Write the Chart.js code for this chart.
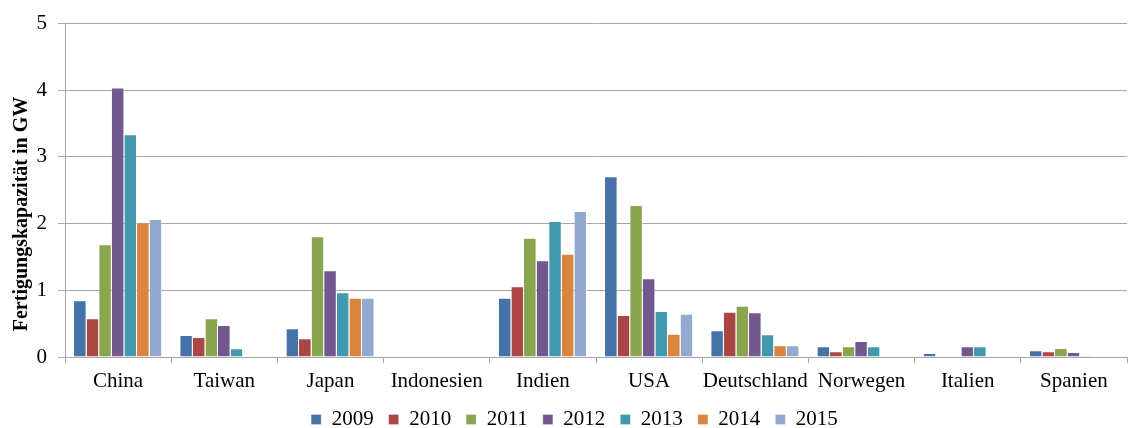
<!DOCTYPE html>
<html>
<head>
<meta charset="utf-8">
<script src="https://cdn.jsdelivr.net/npm/chart.js@4/dist/chart.umd.min.js"></script>
<style>
  html, body { margin: 0; padding: 0; background: #fff; }
  canvas { display: block; }
</style>
</head>
<body>
<canvas id="kapazitaet" width="1129" height="428"></canvas>
<script>
// Länder (Kategorien)
var laender = ['China', 'Taiwan', 'Japan', 'Indonesien', 'Indien', 'USA', 'Deutschland', 'Norwegen', 'Italien', 'Spanien'];

// Fertigungskapazität in GW je Jahr
var jahr2009 = [0.85, 0.33, 0.43, null, 0.89, 2.71, 0.40, 0.16, 0.06, 0.10];
var jahr2010 = [0.58, 0.30, 0.28, null, 1.06, 0.63, 0.68, 0.085, null, 0.085];
var jahr2011 = [1.69, 0.58, 1.81, null, 1.79, 2.28, 0.77, 0.16, null, 0.135];
var jahr2012 = [4.04, 0.48, 1.30, null, 1.45, 1.18, 0.67, 0.24, 0.16, 0.075];
var jahr2013 = [3.34, 0.13, 0.97, null, 2.04, 0.69, 0.34, 0.16, 0.16, 0.015];
var jahr2014 = [2.02, null, 0.89, null, 1.55, 0.35, 0.175, null, null, null];
var jahr2015 = [2.07, null, 0.89, null, 2.19, 0.65, 0.175, null, null, null];

var jahre = ['2009', '2010', '2011', '2012', '2013', '2014', '2015'];
var werte = [jahr2009, jahr2010, jahr2011, jahr2012, jahr2013, jahr2014, jahr2015];
var farben = ['#4572A7', '#AA4643', '#89A54E', '#71588F', '#4198AF', '#DB843D', '#93A9CF'];

var achsenTitel = 'Fertigungskapazität in GW';
var schrift = "'Liberation Serif', 'Times New Roman', serif";

var datensaetze = jahre.map(function (j, i) {
    return {
        label: j,
        data: werte[i],
        backgroundColor: farben[i],
        borderColor: 'rgba(255,255,255,0.5)',
        borderWidth: { left: 0, right: 1, top: 1, bottom: 0 },
        categoryPercentage: 0.83,
        barPercentage: 1.0
    };
});

// y-Achsentitel selbst zeichnen (im Original etwas unterhalb der Mitte)
var titelPlugin = {
    id: 'titelPlugin',
    afterDraw: function (chart) {
        var c = chart.ctx;
        c.save();
        c.translate(22, 214);
        c.rotate(-Math.PI / 2);
        c.font = 'bold 20px ' + schrift;
        c.fillStyle = '#000';
        c.textAlign = 'center';
        c.textBaseline = 'middle';
        c.fillText(achsenTitel, 0, 0);
        c.restore();
    }
};

// Legende niedriger machen und etwas verschieben
var legendenHoehe = {
    id: 'legendenHoehe',
    beforeLayout: function (chart) {
        var lg = chart.legend;
        if (lg && !lg._gekuerzt) {
            var fit = lg.fit;
            lg.fit = function () {
                fit.call(this);
                this.height = 36;
            };
            lg._gekuerzt = true;
        }
    },
    afterLayout: function (chart) {
        var lg = chart.legend;
        lg.left += 9;
        lg.right += 9;
        lg.top += 2;
        lg.bottom += 2;
    }
};

var ctx = document.getElementById('kapazitaet').getContext('2d');
var diagramm = new Chart(ctx, {
    type: 'bar',
    data: {
        labels: laender,
        datasets: datensaetze
    },
    plugins: [titelPlugin, legendenHoehe],
    options: {
        responsive: false,
        animation: false,
        layout: { padding: { top: 20, right: 2, left: 4, bottom: 0 } },
        plugins: {
            tooltip: { enabled: false },
            legend: {
                position: 'bottom',
                labels: {
                    color: '#000',
                    font: { family: schrift, size: 21 },
                    boxWidth: 10,
                    boxHeight: 10,
                    padding: 15
                }
            }
        },
        scales: {
            x: {
                offset: true,
                afterFit: function (s) { s.height = 35; },
                grid: {
                    offset: true,
                    drawOnChartArea: false,
                    color: '#a6a6a6',
                    tickLength: 6
                },
                border: { color: '#a6a6a6' },
                ticks: {
                    color: '#000',
                    font: { family: schrift, size: 21 },
                    maxRotation: 0,
                    autoSkip: false,
                    padding: 6
                }
            },
            y: {
                min: 0,
                max: 5,
                afterFit: function (s) { s.width = 61; },
                grid: {
                    color: '#a6a6a6',
                    tickLength: 7
                },
                border: { color: '#a6a6a6' },
                ticks: {
                    stepSize: 1,
                    color: '#000',
                    font: { family: schrift, size: 21 },
                    padding: 11
                }
            }
        }
    }
});
</script>
</body>
</html>
